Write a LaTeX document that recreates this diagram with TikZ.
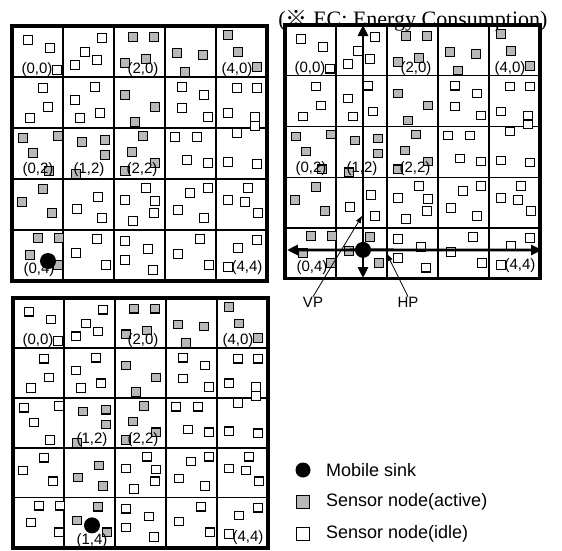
\documentclass[tikz,border=0pt]{standalone}
\usepackage{fontspec}
\setmainfont{Liberation Serif}
\setsansfont{Liberation Sans}
\newfontfamily\markfont{Noto Sans CJK SC}
\usepackage{tikz}
\usetikzlibrary{arrows.meta}
\definecolor{NodeGray}{HTML}{B8B8B8}

% sensor positions inside one 5x5 field (px from its top left corner)
\newcommand{\sensorpts}{%
  16/14, 38/22, 45/44, 90/12, 73/26, 85/34, 63/39,
  121/11, 142/11, 134/33, 113/37, 165/27, 191/29, 173/46,
  216/9, 226/26, 245/41,
  31/62, 36/81, 18/92, 83/61, 63/74, 88/87, 68/92,
  113/69, 143/81, 123/96, 170/61, 192/69, 170/82, 196/91,
  225/62, 245/62, 216/87, 243/91, 243/100,
  11/112, 46/110, 21/127, 37/145, 70/116, 93/114, 93/129, 64/148,
  131/110, 120/126, 143/137, 113/145, 163/111, 185/111, 175/134, 196/137,
  225/107, 216/136, 245/138,
  31/163, 10/176, 40/187, 86/171, 65/183, 90/192,
  134/162, 113/174, 143/175, 142/187, 121/195,
  196/162, 178/167, 166/184, 192/192, 236/162, 216/174, 233/176, 246/187,
  26/212, 47/212, 18/229, 46/239, 85/213, 64/227, 94/239,
  113/215, 136/223, 113/234, 141/244, 188/213, 166/228, 197/239,
  245/214, 226/222, 216/241}

\begin{document}
\begin{tikzpicture}[x=1pt, y=-1pt,
    cellline/.style={line width=1.1pt},
    frameline/.style={line width=3.4pt, line cap=rect},
    idle/.style={draw, line width=1.1pt, fill=white, minimum size=8.5pt, inner sep=0pt},
    active/.style={idle, fill=NodeGray},
    sink/.style={circle, fill=black, minimum size=16pt, inner sep=0pt},
    cellno/.style={font=\sffamily\fontsize{15}{15}\selectfont, inner sep=0pt},
    legendtext/.style={font=\sffamily\fontsize{18}{18}\selectfont, anchor=west, inner sep=0pt},
    bigarrow/.style={line width=2.8pt, -{Triangle[length=11pt, width=10pt]}},
    pointer/.style={line width=0.8pt, -{Triangle[length=7pt, width=5pt]}}]
    \useasboundingbox (0,0) rectangle (562,550);

    % Note on top
    \node[anchor=base, font=\fontsize{22}{22}\selectfont, inner sep=0pt] (ecnote)
      at (413,26) {({\markfont ※} EC: Energy Consumption)};

    % Cells whose sensors are active in each field
    \foreach \c/\r in {2/0,3/0,4/0,2/1,0/2,1/2,2/2,0/3,0/4}
      {\expandafter\gdef\csname onA-\c-\r\endcsname{}}
    \foreach \c/\r in {2/0,3/0,4/0,2/1,0/2,1/2,2/2,0/3,0/4,1/4}
      {\expandafter\gdef\csname onB-\c-\r\endcsname{}}
    \foreach \c/\r in {2/0,3/0,4/0,2/1,1/2,2/2,1/3,1/4}
      {\expandafter\gdef\csname onC-\c-\r\endcsname{}}

    % The three fields
    \foreach \g/\ox/\oy/\ys/\kx/\ky/\labs in {
        A/12/26/1/36/235/{0/0/25/44, 2/0/131/44, 4/0/225/44, 0/2/26/144,
                         1/2/77/144, 2/2/130/144, 0/4/27/244, 4/4/235/242},
        B/285/25/0.995/78/226/{0/0/25/44, 2/0/131/44, 4/0/225/44, 0/2/26/144,
                         1/2/77/144, 2/2/130/144, 0/4/27/244, 4/4/235/242},
        C/13/298/0.98/79/232/{0/0/25/43, 2/0/130/43, 4/0/225/43, 1/2/79/144,
                         2/2/130/144, 1/4/79/248, 4/4/235/244}}{
      \begin{scope}[shift={(\ox,\oy)}, yscale=\ys]
        \foreach \k in {1,...,4}{
          \draw[cellline] (51*\k,0) -- (51*\k,255);
          \draw[cellline] (0,51*\k) -- (255,51*\k);
        }
        \foreach \px/\py [count=\i] in \sensorpts{
          \pgfmathtruncatemacro\cc{\px/51}
          \pgfmathtruncatemacro\rr{\py/51}
          \ifcsname on\g-\cc-\rr\endcsname\def\st{active}\else\def\st{idle}\fi
          \node[\st] (\g-s\i) at (\px,\py) {};
        }
        \foreach \c/\r/\lx/\ly in \labs
          \node[cellno] (\g-l\c\r) at (\lx,\ly) {(\c,\r)};
        \node[sink] (\g-sink) at (\kx,\ky) {};
        \draw[frameline] (0,0) rectangle (255,255);
      \end{scope}
    }

    % Sink moves in the second field
    \coordinate (upEnd) at (363,25);
    \coordinate (downEnd) at (363,278);
    \coordinate (leftEnd) at (287,250);
    \coordinate (rightEnd) at (542,250);
    \draw[bigarrow] (B-sink.center) -- (upEnd);
    \draw[bigarrow] (B-sink.center) -- (downEnd);
    \draw[bigarrow] (B-sink.center) -- (leftEnd);
    \draw[bigarrow] (B-sink.center) -- (rightEnd);

    % VP and HP pointers
    \node[cellno] (vp) at (313,302) {VP};
    \node[cellno] (hp) at (408,302) {HP};
    \coordinate (vpHit) at (362,216);
    \coordinate (hpHit) at (387,254);
    \draw[pointer] (vp.north) -- (vpHit);
    \draw[pointer] (hp.north) -- (hpHit);

    % Legend
    \node[sink, minimum size=15pt] (keySink) at (303,470) {};
    \node[active, minimum size=13pt] (keyActive) at (303,502) {};
    \node[idle, minimum size=13pt] (keyIdle) at (303,534) {};
    \node[legendtext] (txtSink) at (326,470) {Mobile sink};
    \node[legendtext] (txtActive) at (326,502) {Sensor node(active)};
    \node[legendtext] (txtIdle) at (326,534) {Sensor node(idle)};
  \end{tikzpicture}
\end{document}
